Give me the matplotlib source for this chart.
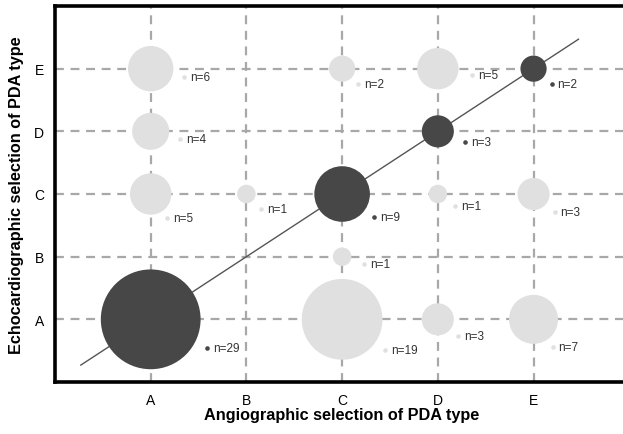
import numpy as np
import matplotlib
matplotlib.use('Agg')
import matplotlib.pyplot as plt

# 数据：血管造影分型 (x) vs 超声心动图分型 (y)
types = ['A', 'B', 'C', 'D', 'E']
angio = ['A', 'A', 'A', 'A', 'B', 'C', 'C', 'C', 'C', 'D', 'D', 'D', 'D', 'E', 'E', 'E']
echo  = ['E', 'D', 'C', 'A', 'C', 'E', 'C', 'B', 'A', 'E', 'D', 'C', 'A', 'E', 'C', 'A']
counts = [6, 4, 5, 29, 1, 2, 9, 1, 19, 5, 3, 1, 3, 2, 3, 7]

# 标签偏移 (像素)
label_off = [(33, -8), (29, -8), (16, -24), (56, -29), (15, -15), (16, -15), (32, -23), (22, -7),
             (43, -31), (34, -6), (27, -11), (17, -12), (20, -17), (18, -15), (21, -18), (19, -28)]

dark = '#474747'
light = '#e0e0e0'

plt.rcParams['font.family'] = ['Liberation Sans', 'DejaVu Sans']

fig = plt.figure(figsize=(6.23, 4.35), dpi=100)
ax = fig.add_axes([55 / 623, 1 - 383 / 435, 1 - 55 / 623 + 0.01, 376 / 435])

xi = np.array([types.index(a) + 1 for a in angio])
yi = np.array([types.index(e) + 1 for e in echo])
n = np.array(counts)
col = [dark if a == e else light for a, e in zip(angio, echo)]

ax.set_xlim(0, 6)
ax.set_ylim(0, 6)
ax.set_xticks(range(1, 6))
ax.set_yticks(range(1, 6))
ax.set_xticklabels(types, fontsize=10)
ax.set_yticklabels(types, fontsize=10)
ax.tick_params(axis='x', length=0, pad=8)
ax.tick_params(axis='y', length=0, pad=8)
ax.grid(True, ls=(0, (4, 3)), color='#a8a8a8', lw=1.6)
ax.set_axisbelow(True)

# 对角线
ax.plot([0.27, 5.47], [0.27, 5.47], color='#555555', lw=1.0, zorder=2)

# 气泡面积 ∝ n
ax.scatter(xi, yi, s=n * 178.0, c=col, edgecolors='none', zorder=3)

px = 72 / 100.0
for x, y, c, cc, (dx, dy) in zip(xi, yi, n, col, label_off):
    ax.plot([x], [y], 'o', ms=3.3, color=cc, mec='none', zorder=4,
            transform=ax.transData + matplotlib.transforms.ScaledTranslation(dx / 100, dy / 100, fig.dpi_scale_trans))
    ax.annotate('n=%d' % c, xy=(x, y), xytext=((dx + 6) * px, dy * px), textcoords='offset points',
                fontsize=8.5, color='#333333', va='center', ha='left', zorder=5)

for s in ['left', 'bottom', 'top']:
    ax.spines[s].set_linewidth(2.6)
    ax.spines[s].set_color('black')
ax.spines['right'].set_visible(False)

ax.set_xlabel('Angiographic selection of PDA type', fontsize=11.7, fontweight='bold', labelpad=0)
ax.set_ylabel('Echocardiographic selection of PDA type', fontsize=11.7, fontweight='bold', labelpad=7)

fig.savefig('out.png', dpi=100)
